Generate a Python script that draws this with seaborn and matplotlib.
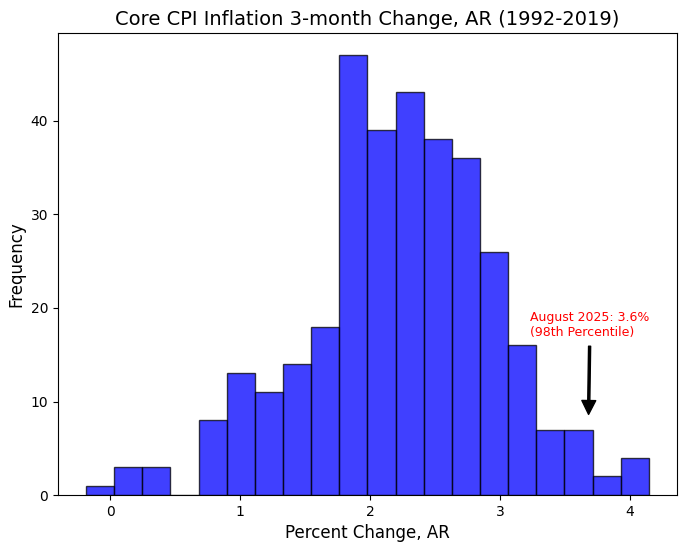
import numpy as np
import pandas as pd
import matplotlib
matplotlib.use("Agg")
import matplotlib.pyplot as plt
import seaborn as sns

bin_lo = -0.186
bin_hi = 4.144
counts = [1, 3, 3, 0, 8, 13, 11, 14, 18, 47, 39, 43, 38, 36, 26, 16, 7, 7, 2, 4]

title = "Core CPI Inflation 3-month Change, AR (1992-2019)"
note = "August 2025: 3.6%\n(98th Percentile)"
note_xy = (3.68, 8.2)
note_text_xy = (3.23, 17)

edges = np.linspace(bin_lo, bin_hi, len(counts) + 1)
centers = (edges[:-1] + edges[1:]) / 2
df = pd.DataFrame({"change": centers, "n": counts})

sns.set_style("ticks", rc={"text.color": "black", "axes.labelcolor": "black",
                           "xtick.color": "black", "ytick.color": "black",
                           "axes.edgecolor": "black"})
plt.rcParams["font.family"] = ["DejaVu Sans"]

fig, ax = plt.subplots(figsize=(6.88, 5.49), dpi=100)
fig.subplots_adjust(left=0.084, right=0.984, bottom=0.098, top=0.94)

sns.histplot(data=df, x="change", weights="n", bins=len(counts),
             binrange=(bin_lo, bin_hi), color="blue", alpha=0.75,
             edgecolor=(0, 0, 0, 0.75), linewidth=1.0, ax=ax)

ax.annotate(note, xy=note_xy, xytext=note_text_xy, color="red", fontsize=9,
            arrowprops=dict(facecolor="black", edgecolor="black", shrink=0.05,
                            width=1.5, headwidth=10, headlength=10))

ax.set_title(title, fontsize=14)
ax.set_xlabel("Percent Change, AR", fontsize=12)
ax.set_ylabel("Frequency", fontsize=12)
ax.set_xticks([0, 1, 2, 3, 4])
ax.set_xticklabels(["0", "1", "2", "3", "4"])
for s in ax.spines.values():
    s.set_visible(True)
    s.set_color("black")

fig.savefig("out.png", dpi=100)
